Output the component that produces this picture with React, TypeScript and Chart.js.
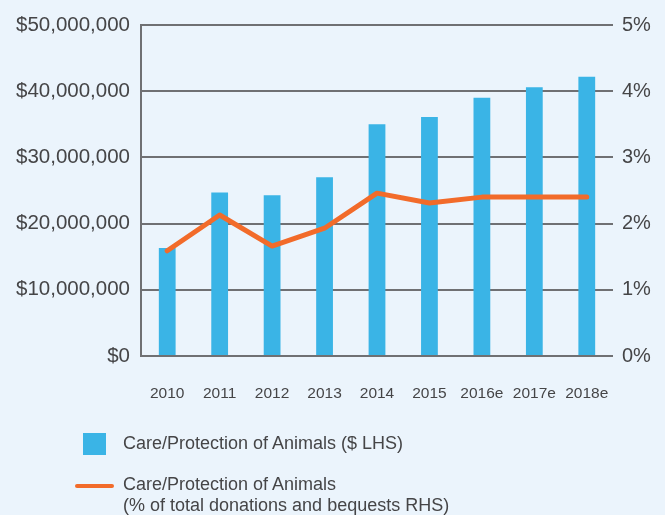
import React, { useEffect, useRef } from "react";
import { Chart, registerables } from "chart.js";

Chart.register(...registerables);

const categories = ["2010", "2011", "2012", "2013", "2014", "2015", "2016e", "2017e", "2018e"];
const dollarValues = [16.3, 24.7, 24.3, 27.0, 35.0, 36.1, 39.0, 40.6, 42.2].map((v) => v * 1000000);
const percentValues = [1.59, 2.13, 1.66, 1.93, 2.46, 2.31, 2.4, 2.4, 2.4];
const barLabel = "Care/Protection of Animals ($ LHS)";
const lineLabel1 = "Care/Protection of Animals";
const lineLabel2 = "(% of total donations and bequests RHS)";

const BG = "#ebf4fc";
const BLUE = "#3ab4e6";
const ORANGE = "#f26b2a";
const GRID = "#6f7073";
const TEXT = "#454547";
const FONT = "'Liberation Sans', Arial, sans-serif";

export default function App() {
  const ref = useRef<HTMLCanvasElement>(null);
  useEffect(() => {
    if (!ref.current) return;
    const chart = new Chart(ref.current, {
      type: "bar",
      data: {
        labels: categories,
        datasets: [
          {
            type: "line",
            label: lineLabel1,
            data: percentValues,
            yAxisID: "y1",
            borderColor: ORANGE,
            backgroundColor: ORANGE,
            borderWidth: 5,
            pointRadius: 0,
            tension: 0,
            borderCapStyle: "round",
            borderJoinStyle: "round",
            order: 1,
          } as any,
          {
            type: "bar",
            label: barLabel,
            data: dollarValues,
            yAxisID: "y",
            backgroundColor: BLUE,
            barPercentage: 0.32,
            categoryPercentage: 1,
            order: 2,
          },
        ],
      },
      options: {
        animation: false,
        responsive: false,
        maintainAspectRatio: false,
        layout: { padding: { top: 25, left: 0, right: 0, bottom: 0 } },
        plugins: { legend: { display: false }, tooltip: { enabled: false } },
        scales: {
          x: {
            grid: { display: false, drawTicks: false },
            border: { display: false },
            ticks: { color: TEXT, font: { family: FONT, size: 15.5 }, padding: 28, maxRotation: 0 },
            afterFit: (s: any) => {
              s.height = 159;
            },
          },
          y: {
            position: "left",
            min: 0,
            max: 50000000,
            ticks: {
              stepSize: 10000000,
              color: TEXT,
              font: { family: FONT, size: 20.5 },
              padding: 11,
              callback: (v: any) => "$" + Number(v).toLocaleString("en-US"),
            },
            grid: { color: GRID, lineWidth: 2, drawTicks: false },
            border: { display: true, color: GRID, width: 2 },
            afterFit: (s: any) => {
              s.width = 141;
            },
          },
          y1: {
            position: "right",
            min: 0,
            max: 5,
            ticks: {
              stepSize: 1,
              color: TEXT,
              font: { family: FONT, size: 20 },
              padding: 9,
              callback: (v: any) => v + "%",
            },
            grid: { display: false, drawTicks: false },
            border: { display: false },
            afterFit: (s: any) => {
              s.width = 52;
            },
          },
        },
      },
    });
    return () => chart.destroy();
  }, []);

  return (
    <div
      style={{
        position: "fixed",
        left: 0,
        top: 0,
        width: 665,
        height: 515,
        background: BG,
        fontFamily: FONT,
        color: TEXT,
      }}
    >
      <canvas ref={ref} width={665} height={515} style={{ position: "absolute", left: 0, top: 0 }} />
      <div style={{ position: "absolute", left: 83, top: 433, width: 23, height: 22, background: BLUE }} />
      <div style={{ position: "absolute", left: 123, top: 433, fontSize: 18, lineHeight: "20px", whiteSpace: "nowrap" }}>
        {barLabel}
      </div>
      <div style={{ position: "absolute", left: 75, top: 484, width: 39, height: 4, borderRadius: 2, background: ORANGE }} />
      <div style={{ position: "absolute", left: 123, top: 474, fontSize: 18, lineHeight: "21px", whiteSpace: "nowrap" }}>
        {lineLabel1}
        <br />
        {lineLabel2}
      </div>
    </div>
  );
}
